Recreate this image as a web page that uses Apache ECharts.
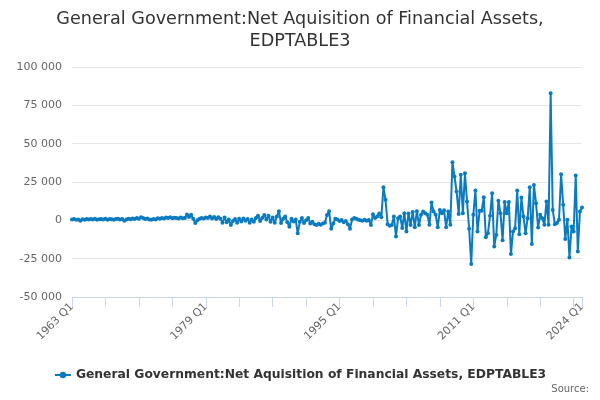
<!DOCTYPE html>
<html>
<head>
<meta charset="utf-8">
<script src="https://cdn.jsdelivr.net/npm/echarts@6/dist/echarts.min.js"></script>
<style>
  html, body { margin: 0; padding: 0; background: #fff; }
  #chart { width: 600px; height: 400px; }
</style>
</head>
<body>
<div id="chart"></div>
<script>
// quarterly values, £ million
var values1963to1978 = [500, 800, 300, 600, -200, 700, 400, 900, 500, 800, 600, 1000, 300, 700, 800, 500,
  1000, 400, 900, 700, 300, 800, 1100, 600, 900, -300, 600, 1000, 700, 1200, 900, 1500,
  1000, 2000, 1500, 800, 1200, 500, 300, 900, 600, 1300, 1000, 1600, 1200, 1800, 1500, 2000,
  1300, 1700, 1500, 1200, 1800, 1400, 1600, 3800, 2200, 3600, 1000, -1800, 0, 1000, 1500, 1200];
var values1979to1994 = [1800, 1500, 2500, 1200, 2200, 800, 2000, 1000, -1500, 1800, -1200, 500, -3000, -500, 800, -1500,
  1000, -800, 1200, -300, 800, -1500, 500, -1000, 1500, 3000, -500, 1500, 3500, 500, 3000, -1000,
  1800, -1500, 2500, 6000, -1800, 1000, 2500, -1200, -4200, 1000, -800, 500, -8500, -1000, 1500, -1800,
  0, 1500, -2000, -1000, -2500, -3000, -2200, -2800, -2000, -1500, 3500, 6000, -5500, -2000, 1000, 500];
var values1995to2010 = [-500, 200, -1200, -500, -2500, -5500, 500, 1500, 1000, 300, 0, -200, 300, -300, 200, -3000,
  4000, 1500, 2500, 4500, 2000, 21600, 13400, -2500, -3500, -3000, 2500, -10500, 1400, 2500, -5000, 4700,
  -7300, 4500, -3000, 5500, -4500, 6000, -3000, 3600, 5800, 4700, 3600, -2900, 11600, 5800, 3600, -4500,
  6800, 4700, 6500, -4500, 5800, -2900, 37900, 28600, 18800, 4200, 29700, 4700, 30700, 12300, -5500, -28400];
var values2011to2024 = [3600, 19400, -7300, 6200, 6200, 15100, -11000, -8400, 3000, 17700, -17000, -9500, 12800, 4700, -13000, 12000,
  4700, 12000, -22000, -7300, -5100, 19400, -9000, 14900, 2500, -8400, 1400, 21600, -15500, 23100, 11200, -4700,
  3600, 1400, -2900, 12300, -2900, 82900, 6800, -2500, -1800, 300, 30100, 10100, -12100, 300, -24200, -4000,
  -7300, 29200, -20300, 5700, 8300];

var firstYear = 1963;
var labelEvery = 64;  // quarters between x labels
var tickEvery = 16;   // quarters between x ticks

var values = values1963to1978.concat(values1979to1994, values1995to2010, values2011to2024);
var quarters = [];
for (var i = 0; i < values.length; i++) {
  quarters.push((firstYear + Math.floor(i / 4)) + ' Q' + (i % 4 + 1));
}
var lastIndex = quarters.length - 1;

function spaced(v) {
  var s = String(Math.abs(v)).replace(/\B(?=(\d{3})+(?!\d))/g, ' ');
  return (v < 0 ? '-' : '') + s;
}

var chartDom = document.getElementById('chart');
var myChart = echarts.init(chartDom);
var font = 'DejaVu Sans';

var option = {
  animation: false,
  title: {
    text: 'General Government:Net Aquisition of Financial Assets,\nEDPTABLE3',
    left: 'center',
    top: 3,
    textStyle: { fontFamily: font, fontSize: 17.6, fontWeight: 'normal', color: '#333333', lineHeight: 22 }
  },
  graphic: [{
    type: 'text',
    right: 11,
    top: 384,
    style: { text: 'Source:', font: '10px "DejaVu Sans"', fill: '#666666' }
  }],
  legend: {
    top: 364,
    left: 'center',
    itemWidth: 16,
    itemHeight: 8,
    textStyle: { fontFamily: font, fontSize: 12.3, fontWeight: 'bold', color: '#333333' }
  },
  grid: { left: 72, right: 18, top: 67, bottom: 103 },
  xAxis: {
    type: 'category',
    data: quarters,
    boundaryGap: false,
    axisLine: { onZero: false, lineStyle: { color: '#ccd6eb' } },
    axisTick: {
      length: 10,
      lineStyle: { color: '#ccd6eb' },
      interval: function (idx) { return idx % tickEvery === 0 || idx === lastIndex; }
    },
    axisLabel: {
      rotate: 45,
      fontFamily: font,
      fontSize: 11,
      color: '#666666',
      margin: 8,
      interval: function (idx) { return idx % labelEvery === 0 || idx === lastIndex; }
    },
    splitLine: { show: false }
  },
  yAxis: {
    type: 'value',
    min: -50000,
    max: 100000,
    interval: 25000,
    axisLine: { show: false },
    axisTick: { show: false },
    axisLabel: {
      fontFamily: font,
      fontSize: 11,
      color: '#666666',
      margin: 10,
      formatter: spaced
    },
    splitLine: { lineStyle: { color: '#e6e6e6' } }
  },
  series: [{
    name: 'General Government:Net Aquisition of Financial Assets, EDPTABLE3',
    type: 'line',
    data: values,
    color: '#0b7bc1',
    symbol: 'circle',
    symbolSize: 4,
    showAllSymbol: true,
    lineStyle: { width: 2 }
  }]
};

myChart.setOption(option);
</script>
</body>
</html>
